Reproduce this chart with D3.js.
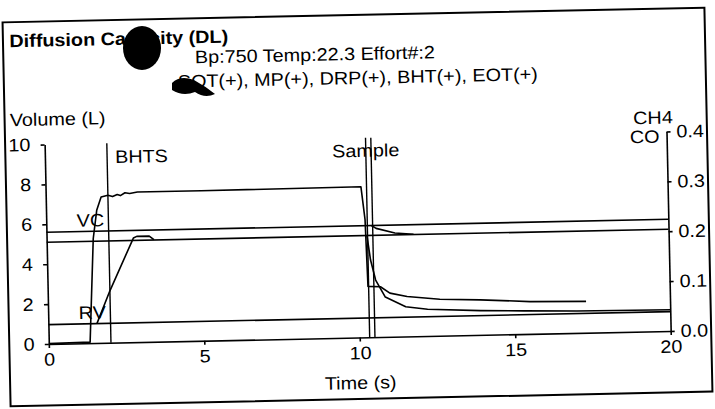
<!DOCTYPE html>
<html>
<head>
<meta charset="utf-8">
<script src="https://cdn.jsdelivr.net/npm/d3@7"></script>
<style>
  body { margin: 0; background: #fff; }
  svg text { font-family: "Liberation Sans", Arial, sans-serif; }
</style>
</head>
<body>
<svg id="chart" width="715" height="409"></svg>
<script>
// tick labels
var timeTicks = [0, 5, 10, 15, 20];
var volTicks = [0, 2, 4, 6, 8, 10];
var gasTicks = [0.0, 0.1, 0.2, 0.3, 0.4];

// traces, [time (s), volume (L)]
var volumeTrace = [[0, 0.02], [1.33, 0.05], [1.41, 2.5], [1.5, 5.24], [1.63, 6.65], [1.78, 7.31], [2.0, 7.39],
    [2.15, 7.32], [2.3, 7.42], [2.4, 7.36], [2.55, 7.5], [2.7, 7.46], [2.95, 7.52], [5, 7.52], [10.14, 7.55],
    [10.25, 5.9], [10.3, 2.55], [10.7, 2.52], [11.0, 2.19], [11.55, 2.0], [12.6, 1.83], [13.9, 1.76],
    [15.5, 1.62], [17.3, 1.57]];
var gasRise = [[1.56, 0.97], [2.0, 2.6], [2.79, 5.22], [2.9, 5.3], [3.3, 5.3], [3.45, 5.12]];
var gasWashout = [[10.3, 5.1], [10.4, 3.87], [10.55, 2.86], [10.85, 2.0], [11.5, 1.49], [12.2, 1.34],
    [13.9, 1.22], [15.3, 1.16], [17, 1.1], [20, 1.06]];
var gasBranch = [[10.45, 5.6], [10.6, 5.45], [11.2, 5.2], [11.8, 5.12]];

// reference levels and event markers
var refNames = ['VC', '', 'RV'];
var refLevels = [5.6, 5.1, 0.97];
var markerNames = ['BHTS', 'Sample', ''];
var markerTimes = [2.0, 10.32, 10.49];

var title = 'Diffusion Capacity (DL)';
var infoLine = 'Bp:750 Temp:22.3 Effort#:2';
var flagLine = 'SOT(+), MP(+), DRP(+), BHT(+), EOT(+)';

var stretch = 1.1;
var svg = d3.select('#chart');
svg.append('rect').attr('width', 715).attr('height', 409).attr('fill', '#fff');

// the scan is a bit tilted
var g = svg.append('g').attr('transform', 'rotate(-1.2,357,207)');

g.append('rect').attr('x', 6.5).attr('y', 15).attr('width', 702).attr('height', 384)
    .attr('fill', 'none').attr('stroke', '#000').attr('stroke-width', 2);

var x = d3.scaleLinear().domain([0, 20]).range([46, 668]);
var yL = d3.scaleLinear().domain([0, 10]).range([337.5, 138]);
var yR = d3.scaleLinear().domain([0, 0.4]).range([337.5, 138]);

function label(sel, txt, px, py, anchor, bold) {
    sel.append('g').attr('transform', 'translate(' + px + ',' + py + ') scale(' + stretch + ',1)')
        .append('text').text(txt).attr('font-size', 18).attr('text-anchor', anchor || 'start')
        .attr('font-weight', bold ? 'bold' : null).attr('fill', '#000');
}

function styleAxis(a) {
    a.attr('font-size', 18).attr('font-family', '"Liberation Sans", Arial, sans-serif');
    a.selectAll('path, line').attr('stroke', '#000').attr('stroke-width', 1.6);
    a.selectAll('text').attr('fill', '#000').attr('transform', 'scale(' + stretch + ',1)');
}

var ax = g.append('g').attr('transform', 'translate(0,' + yL(0) + ')')
    .call(d3.axisBottom(x).tickValues(timeTicks).tickSize(4).tickPadding(5).tickSizeOuter(0).tickFormat(d3.format('d')));
styleAxis(ax);
var al = g.append('g').attr('transform', 'translate(' + x(0) + ',0)')
    .call(d3.axisLeft(yL).tickValues(volTicks).tickSize(4).tickPadding(9).tickSizeOuter(0).tickFormat(d3.format('d')));
styleAxis(al);
var ar = g.append('g').attr('transform', 'translate(' + x(20) + ',0)')
    .call(d3.axisRight(yR).tickValues(gasTicks).tickSize(4).tickPadding(5).tickSizeOuter(0).tickFormat(d3.format('.1f')));
styleAxis(ar);

var line = d3.line().x(d => x(d[0])).y(d => yL(d[1]));

// reference levels
refLevels.forEach((v, i) => {
    g.append('path').attr('d', line([[0, v], [20, v]]))
        .attr('fill', 'none').attr('stroke', '#000').attr('stroke-width', 1.6);
    if (refNames[i]) label(g, refNames[i], x(0.98), yL(v) - 5);
});

// markers
markerTimes.forEach((t, i) => {
    g.append('path').attr('d', line([[t, 0], [t, 10]]))
        .attr('fill', 'none').attr('stroke', '#000').attr('stroke-width', 1.4);
});
label(g, markerNames[0], x(markerTimes[0]) + 8, yL(9.0));
label(g, markerNames[1], x(markerTimes[1]), yL(9.05), 'middle');

[volumeTrace, gasRise, gasWashout, gasBranch].forEach(s => {
    g.append('path').attr('d', line(s))
        .attr('fill', 'none').attr('stroke', '#000').attr('stroke-width', 1.6).attr('stroke-linejoin', 'round');
});

// texts
label(g, title, 13, 40, 'start', true);
label(g, infoLine, 198, 60);
label(g, flagLine, 180.5, 84);
label(g, 'Volume (L)', 11.7, 119);
label(g, 'Time (s)', (x(0) + x(20)) / 2, 389, 'middle');
label(g, 'CH4', x(20) - 33, 130);
label(g, 'CO', x(20) - 7, 149, 'end');

// ink spots on the scan
svg.append('ellipse').attr('cx', 142).attr('cy', 48).attr('rx', 19).attr('ry', 22).attr('fill', '#000');
svg.append('path').attr('d', 'M172,83 Q180,75 194,80 Q205,86 215,94 Q205,99 195,92 Q183,97 172,90 Z').attr('fill', '#000');
</script>
</body>
</html>
